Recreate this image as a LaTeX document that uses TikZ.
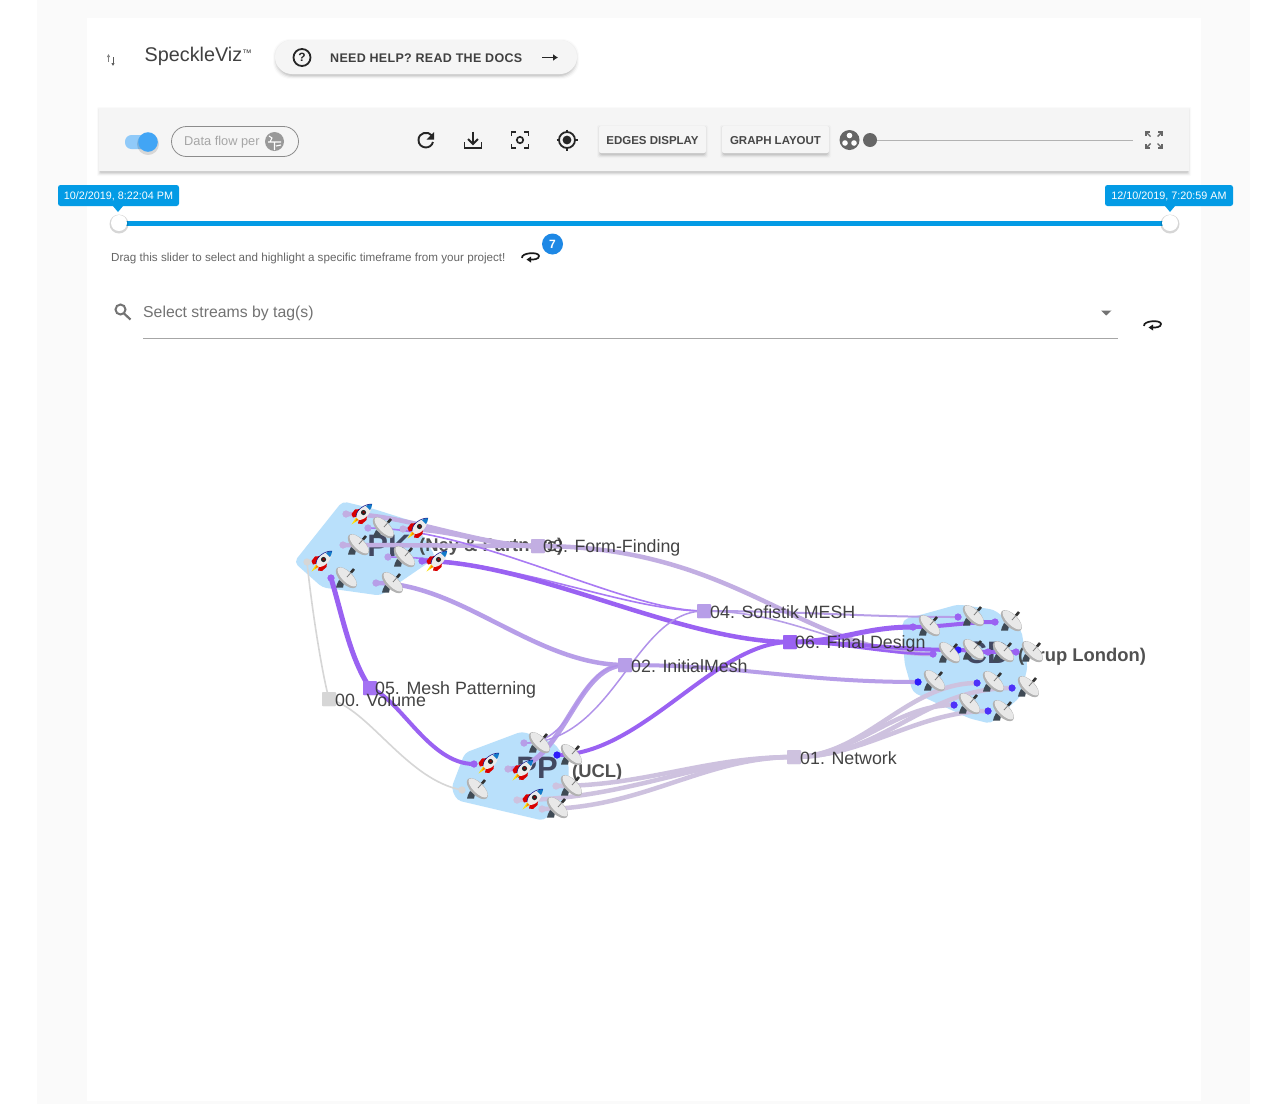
\documentclass[tikz,border=0pt]{standalone}
\usepackage{fontspec}
\setmainfont{Liberation Sans}
\usetikzlibrary{calc,arrows.meta}
\definecolor{hull}{HTML}{B9E0FB}
\definecolor{lil}{HTML}{C2AEE2}
\definecolor{lilb}{HTML}{B79EE8}
\definecolor{pur}{HTML}{9A62F2}
\definecolor{net}{HTML}{CEC2DF}
\definecolor{gry}{HTML}{D6D6D6}
\definecolor{sky}{HTML}{039BE5}
\definecolor{uibg}{HTML}{F5F5F5}
\definecolor{ink}{HTML}{333333}
\definecolor{trk}{HTML}{90CAF9}
\definecolor{thumb}{HTML}{42A5F5}
\definecolor{badgeb}{HTML}{1E88E5}
\definecolor{stand}{HTML}{3F4A55}
\tikzset{
  sq/.style={rectangle,inner sep=0pt,minimum size=14pt,rounded corners=1pt},
  dotn/.style={circle,inner sep=0pt,minimum size=7pt},
  lab/.style={anchor=west,inner sep=0pt,font=\fontsize{17.8}{20}\selectfont,text=ink,text opacity=.92},
  grp/.style={anchor=west,inner sep=0pt,font=\bfseries\fontsize{18.4}{20}\selectfont,text=ink,text opacity=.85},
  big/.style={anchor=center,inner sep=0pt,font=\bfseries\fontsize{31}{32}\selectfont,text=ink!90!blue,text opacity=.85},
  hullshape/.style={fill=hull,draw=hull,line width=3pt,line join=round,rounded corners=4pt},
  ui/.style={inner sep=0pt},
  btnt/.style={ui,font=\bfseries\fontsize{11.5}{14}\selectfont,text=black!72},
  tip/.style={ui,font=\fontsize{10.8}{12}\selectfont,text=white},
  rocket/.pic={
    \fill[yellow!85!orange] (-5,2) -- (-10.5,10.5) -- (-2,5) -- cycle;
    \fill[red!85!black] (-1,-5) -- (-7,-4.5) -- (-10.5,0) -- (-9,3.5) -- (-5,2.5) -- cycle;
    \fill[red!85!black] (5,1) -- (4.5,6) -- (0,10) -- (-4,9.5) -- (-3,5) -- cycle;
    \fill[orange] (-5,3.5) -- (-7,7.5) -- (-3,5.5) -- cycle;
    \fill[black!8] (10,-10) .. controls (2,-10) and (-6,-4) .. (-6,3) -- (-3,6) .. controls (4,6) and (10,-2) .. (10,-10) -- cycle;
    \fill[cyan!60!blue] (10,-10) .. controls (8,-10) and (6,-9.5) .. (4,-8) -- (8,-4) .. controls (9.5,-6) and (10,-8) .. (10,-10) -- cycle;
    \draw[blue!50!black,line width=.5pt] (10,-10) .. controls (2,-10) and (-6,-4) .. (-6,3);
    \fill[black!85] (1.5,-1.5) circle[radius=2.6];
    \fill[red!60!black] (1.8,-1.8) circle[radius=1.1];
  },
  dish/.pic={
    \fill[stand] (-7,2) -- (-2,5) -- (-3,9.5) -- (-10,9.5) -- (-9,6) -- cycle;
    \fill[black!30,rotate=-45] (0,-0.5) ellipse[x radius=13.5,y radius=6.5];
    \fill[black!9,rotate=-45] (0,-1.5) ellipse[x radius=12.5,y radius=5];
    \draw[black!50,line width=.8pt] (1,-1) -- (5,-5.5);
    \draw[black!80,line width=2.6pt] (5,-5.5) -- (8,-9);
  },
}
% link between two named nodes with control offsets
\newcommand\lnk[5]{\draw[#1,line cap=round] (#2.center) .. controls ($(#2.center)+(#4)$) and ($(#3.center)+(#5)$) .. (#3.center);}
\newcommand\softshadow[5]{%
  \foreach \o/\p in {3/.02,2/.04,1/.06,0/.08}{
    \fill[black,opacity=\p,rounded corners=#5] (#1-\o+1,#2+2-\o) rectangle (#3+\o-1,#4+2+\o);
  }}
\newcommand\loopicon[2]{%
  \begin{scope}[shift={(#1,#2)}]
    \draw[black!90,line width=1.7pt] (-8,2) .. controls (-9,-3.5) and (9,-4.5) .. (9,0) .. controls (9,3) and (4,4) .. (-1,3.5);
    \fill[black!90] (-3.5,3.5) -- (1,0.5) -- (1,6.5) -- cycle;
  \end{scope}}
\begin{document}
\begin{tikzpicture}[x=1pt,y=-1pt]
\useasboundingbox (0,0) rectangle (1282,1104);
\fill[white] (0,0) rectangle (1282,1104);
\fill[black!2] (37,0) rectangle (1250,1104);
\fill[white] (87,18) rectangle (1201,1101);

% ---------- header
\draw[black!50,line width=1pt,-{Latex[length=3pt,width=3.5pt]}] (108.5,62) -- (108.5,54);
\draw[black!65,line width=1pt,-{Latex[length=3pt,width=3.5pt]}] (113,57) -- (113,66);
\node[ui,anchor=west,font=\fontsize{19.8}{22}\selectfont,text=black!75] (title) at (144.5,56.5) {SpeckleViz\raisebox{5.5pt}{\fontsize{9.5}{10}\selectfont ™}};
\softshadow{275}{40}{577}{74}{17}
\fill[uibg,rounded corners=17] (275,40) rectangle (577,74);
\draw[black!85,line width=1.8pt] (302,57.5) circle[radius=8.5];
\node[ui,font=\bfseries\fontsize{12}{12}\selectfont,text=black!85] (q) at (302,57.5) {?};
\node[ui,anchor=west,font=\bfseries\fontsize{12.5}{14}\selectfont\addfontfeature{LetterSpace=2.5},text=black!75] (help) at (330,58) {NEED HELP? READ THE DOCS};
\draw[black!85,line width=1.7pt,-{Latex[length=5pt,width=7pt]}] (542,57.5) -- (558,57.5);

% ---------- toolbar
\softshadow{99}{108}{1189}{171}{1}
\fill[uibg] (99,108) rectangle (1189,171);
\fill[trk,rounded corners=6.5] (125,135) rectangle (155,149);
\fill[black,opacity=.12] (148,144) circle[radius=11];
\fill[thumb] (148,142) circle[radius=9.8];
\draw[black!45,line width=.8pt,rounded corners=15] (171.5,126.5) rectangle (298.5,156.5);
\node[ui,anchor=west,font=\fontsize{12.8}{14}\selectfont,text=black!35] (flow) at (184,142) {Data flow per};
\fill[black!40] (274.5,141.5) circle[radius=9.5];
\draw[white,line width=1.1pt] (268,142) -- (281,142) (274.5,142) -- (274.5,150) (269,136) -- (272,138) -- (270,142) (281,145) -- (276,146);
% refresh
\draw[black!85,line width=1.9pt] (432,135.5) .. controls (428,130.5) and (418.5,132.5) .. (418.5,140) .. controls (418.5,149) and (431,150) .. (433,142);
\fill[black!85] (434,132) -- (434,139.5) -- (426.5,139.5) -- cycle;
% download
\draw[black!85,line width=1.9pt] (464.5,142) -- (464.5,148) -- (481.5,148) -- (481.5,142);
\draw[black!85,line width=1.9pt] (473,131.5) -- (473,143);
\draw[black!85,line width=1.9pt] (468,139) -- (473,144) -- (478,139);
% focus
\draw[black!85,line width=1.9pt] (511.5,136) -- (511.5,132) -- (516,132) (524,132) -- (528.5,132) -- (528.5,136) (528.5,144) -- (528.5,148) -- (524,148) (516,148) -- (511.5,148) -- (511.5,144);
\draw[black!85,line width=1.7pt] (520,140) circle[radius=3.2];
% target
\draw[black!85,line width=1.8pt] (567,140) circle[radius=8];
\fill[black!85] (567,140) circle[radius=4.4];
\draw[black!85,line width=1.8pt] (567,129.5) -- (567,132) (567,148) -- (567,150.5) (556.5,140) -- (559,140) (575,140) -- (577.5,140);
% buttons
\softshadow{599}{126}{706}{153}{2}
\fill[uibg,rounded corners=2] (599,126) rectangle (706,153);
\node[btnt] (edges) at (652.5,140.5) {EDGES DISPLAY};
\softshadow{722}{126}{829}{153}{2}
\fill[uibg,rounded corners=2] (722,126) rectangle (829,153);
\node[btnt] (layout) at (775.5,140.5) {GRAPH LAYOUT};
\fill[black!60] (849.5,140) circle[radius=10];
\fill[white] (849.5,135.5) circle[radius=2.8] (845,143) circle[radius=2.8] (854,143) circle[radius=2.8];
\draw[black!30,line width=1pt] (870,140) -- (1133,140);
\fill[black!60] (870,140) circle[radius=7];
% fullscreen
\draw[black!60,line width=1.4pt] (1146,136) -- (1146,132) -- (1150,132) (1158,132) -- (1162,132) -- (1162,136) (1162,144) -- (1162,148) -- (1158,148) (1150,148) -- (1146,148) -- (1146,144);
\draw[black!60,line width=1.4pt] (1146,132) -- (1150.5,136.5) (1162,132) -- (1157.5,136.5) (1162,148) -- (1157.5,143.5) (1146,148) -- (1150.5,143.5);

% ---------- slider
\fill[sky,rounded corners=2.5] (58,185) rectangle (179,206);
\fill[sky] (113,206) -- (123,206) -- (118,212) -- cycle;
\node[tip] (t1) at (118.5,196) {10/2/2019, 8:22:04 PM};
\fill[sky,rounded corners=2.5] (1105,185) rectangle (1233,206);
\fill[sky] (1165,206) -- (1175,206) -- (1170,212) -- cycle;
\node[tip] (t2) at (1169,196) {12/10/2019, 7:20:59 AM};
\draw[sky,line width=5pt] (119,223) -- (1170,223);
\foreach \xx in {119,1170}{
  \fill[black,opacity=.16] (\xx,224) circle[radius=9.5];
  \fill[white] (\xx,223) circle[radius=8];
}
\node[ui,anchor=west,font=\fontsize{11.65}{13}\selectfont,text=black!60] (drag) at (111,258) {Drag this slider to select and highlight a specific timeframe from your project!};
\loopicon{530}{256}
\fill[badgeb] (552.5,244) circle[radius=10.5];
\node[ui,font=\bfseries\fontsize{12}{13}\selectfont,text=white] (badge) at (552.5,244) {7};

% ---------- search
\draw[black!55,line width=2pt] (120.5,309.5) circle[radius=5];
\draw[black!55,line width=2.2pt] (124,313.5) -- (130.5,319.5);
\node[ui,anchor=west,font=\fontsize{15.8}{18}\selectfont,text=black!55] (sel) at (143,313) {Select streams by tag(s)};
\fill[black!55] (1101,310.5) -- (1111.5,310.5) -- (1106.2,315.5) -- cycle;
\draw[black!35,line width=1pt] (143,338) -- (1118,338);
\loopicon{1152}{324}

% ---------- group hulls
\draw[hullshape] (343,503) -- (372,510) -- (413,523) -- (434,557) -- (380,594) -- (323,586) -- (296,562) -- cycle;
\draw[hullshape] (958,606) -- (993,611) -- (1020,631) -- (1026,667) -- (1019,696) -- (990,722) -- (970,717) -- (914,691) -- (906,663) -- (904,621) -- cycle;
\draw[hullshape] (522,733) -- (553,744) -- (567,763) -- (567,797) -- (543,819) -- (458,799) -- (453,788) -- (466,754) -- cycle;
\node[big] (pk) at (389,546) {PK};
\node[grp] (pkn) at (419,547) {(Ney \& Partners)};
\node[big] (cd) at (987,653) {CD};
\node[grp] (cdn) at (1018,657) {(Arup London)};
\node[big] (pp) at (537,768) {PP};
\node[grp] (ppn) at (572,772.5) {(UCL)};

% ---------- stream nodes
\node[sq,fill=lil]  (n03) at (538,546) {};
\node[sq,fill=lilb] (n04) at (704,611) {};
\node[sq,fill=pur]  (n06) at (790,642) {};
\node[sq,fill=lilb] (n02) at (625,665) {};
\node[sq,fill=pur!90!white]  (n05) at (370,688) {};
\node[sq,fill=gry]  (n00) at (329,699) {};
\node[sq,fill=net]  (n01) at (794,757) {};

% ---------- port dots
\foreach \nm/\xx/\yy/\cc in {
  a1/346/514/lil,a2/368/528/lilb,a3/403/529/lil,a4/343/545/lil,a5/388/557/lilb,a6/422/561/pur,a7/307/562/gry,a8/331/578/pur,a9/376/583/lilb,
  c1/958/617/pur,c2/995/622/pur,c3/913/627/pur,c4/933/654/pur,c5/958/650/blue!70!pur,c6/988/652/pur,c7/1016/652/pur,c8/918/682/blue!70!pur,c9/977/683/blue!50!pur,c10/1012/688/blue!50!pur,c11/954/705/blue!50!pur,c12/988/711/blue!50!pur,
  p1/524/743/lilb,p2/557/755/blue!70!pur,p3/474/764/pur,p4/508/769/lil,p5/462/790/gry,p6/556/786/net,p7/517/800/net,p8/542/809/net}{
  \node[dotn,fill=\cc] (\nm) at (\xx,\yy) {};
}

% ---------- edges
\lnk{lil,line width=4.5pt}{a1}{n03}{60,0}{-60,0}
\lnk{lil,line width=4.5pt}{a3}{n03}{50,0}{-50,0}
\lnk{lil,line width=4.5pt}{a4}{n03}{60,0}{-60,0}
\lnk{pur!85!white,line width=1.6pt}{a2}{n04}{110,0}{-80,0}
\lnk{pur!85!white,line width=1.6pt}{a5}{n04}{120,0}{-80,0}
\lnk{pur,line width=4.5pt}{a6}{n06}{110,0}{-110,0}
\lnk{pur,line width=5pt}{a8}{n05}{12,40}{-20,-30}
\lnk{pur,line width=4pt}{n05}{p3}{30,10}{-45,0}
\lnk{lilb,line width=4.5pt}{a9}{n02}{85,0}{-90,0}
\lnk{gry,line width=1.6pt}{a7}{n00}{4,40}{-8,-30}
\lnk{gry,line width=1.6pt}{n00}{p5}{40,10}{-55,-10}
\lnk{lil,line width=4.5pt}{n03}{c4}{200,0}{-130,0}
\lnk{lilb,line width=2pt}{n04}{c1}{100,0}{-100,0}
\lnk{lilb,line width=1.6pt}{n04}{c4}{90,0}{-90,0}
\lnk{pur,line width=5pt}{n06}{c3}{50,0}{-50,0}
\lnk{pur,line width=4pt}{n06}{c5}{60,0}{-60,0}
\lnk{pur,line width=2.5pt}{n06}{c4}{50,0}{-50,0}
\lnk{pur,line width=4pt}{c3}{c2}{30,0}{-30,0}
\lnk{pur,line width=4pt}{c5}{c6}{10,0}{-10,0}
\lnk{pur,line width=4pt}{c6}{c7}{10,0}{-10,0}
\lnk{lilb,line width=4pt}{n02}{c8}{120,0}{-120,0}
\lnk{lilb,line width=5pt}{p4}{n02}{55,0}{-50,0}
\lnk{lilb!80!pur,line width=1.5pt}{p1}{n02}{55,0}{-50,0}
\lnk{lilb!80!pur,line width=1.5pt}{p1}{n04}{90,0}{-70,0}
\lnk{pur,line width=4pt}{p2}{n06}{85,0}{-75,0}
\lnk{net,line width=4.5pt}{p6}{n01}{90,0}{-90,0}
\lnk{net,line width=4.5pt}{p7}{n01}{110,0}{-90,0}
\lnk{net,line width=4.5pt}{p8}{n01}{100,0}{-90,0}
\lnk{net,line width=4.5pt}{n01}{c9}{70,0}{-70,0}
\lnk{net,line width=4.5pt}{n01}{c10}{90,0}{-90,0}
\lnk{net,line width=4.5pt}{n01}{c11}{60,0}{-60,0}
\lnk{net,line width=4.5pt}{n01}{c12}{70,0}{-70,0}

% redraw ports above edges
\foreach \nm/\cc in {a1/lil,a2/lilb,a3/lil,a4/lil,a5/lilb,a6/pur,a7/gry,a8/pur,a9/lilb,
  c1/pur,c2/pur,c3/pur,c4/pur,c5/blue!70!pur,c6/pur,c7/pur,c8/blue!70!pur,c9/blue!50!pur,c10/blue!50!pur,c11/blue!50!pur,c12/blue!50!pur,
  p1/lilb,p2/blue!70!pur,p3/pur,p4/lil,p5/gry,p6/net,p7/net,p8/net}{
  \fill[\cc] (\nm) circle[radius=3.5];
}

% ---------- emoji
\foreach \xx/\yy in {362/514,418/528,437/561,322/561,489/763,523/770,533/799}{
  \pic at (\xx,\yy) {rocket};
}
\foreach \xx/\yy in {383/528,358/545,404/557,346/578,392/583,
  973/616,1011/621,929/626,949/653,973/650,1003/652,1032/652,934/681,993/682,1028/687,969/704,1003/711,
  539/743,571/755,477/789,571/786,557/808}{
  \pic at (\xx,\yy) {dish};
}

% ---------- stream squares and labels on top
\foreach \nm/\cc in {n03/lil,n04/lilb,n06/pur,n02/lilb,n05/pur!90!white,n00/gry,n01/net}{
  \fill[\cc,rounded corners=1pt] ($(\nm.center)+(-7,-7)$) rectangle ($(\nm.center)+(7,7)$);
}
\node[lab] (l03) at (543,547.5) {03. Form-Finding};
\node[lab] (l04) at (710,612) {04. Sofistik MESH};
\node[lab] (l06) at (795,643.5) {06. Final Design};
\node[lab] (l02) at (631,666) {02. InitialMesh};
\node[lab] (l05) at (375,689.5) {05. Mesh Patterning};
\node[lab] (l00) at (335,700) {00. Volume};
\node[lab] (l01) at (800,758) {01. Network};
\end{tikzpicture}
\end{document}
